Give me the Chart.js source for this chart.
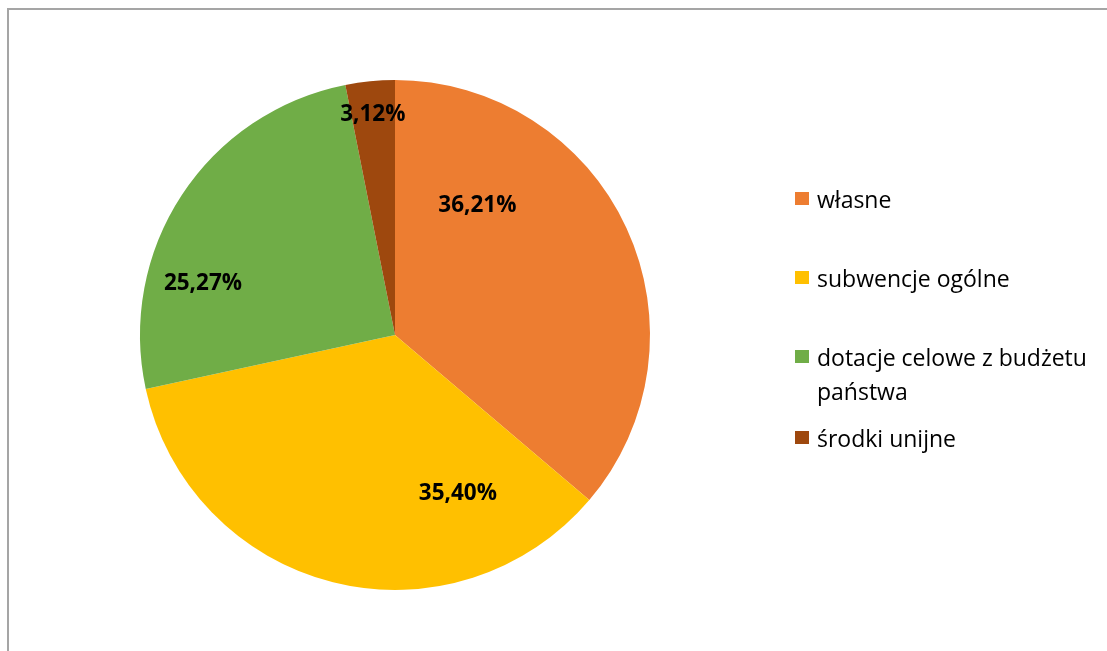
<!DOCTYPE html>
<html>
<head>
<meta charset="utf-8">
<script src="https://cdn.jsdelivr.net/npm/chart.js@4/dist/chart.umd.min.js"></script>
<style>
    body { margin: 0; background: #fff; }
    #wrap { position: relative; width: 1107px; height: 651px; overflow: hidden; }
    #frame { position: absolute; left: 7px; top: 8px; width: 1200px; height: 800px; border-left: 2px solid #a5a5a5; border-top: 2px solid #a5a5a5; }
    #myChart { position: absolute; left: 0; top: 0; }
    #legend { position: absolute; left: 0; top: 0; font-family: "Open Sans", sans-serif; font-size: 23px; color: #000; }
    .item { position: absolute; left: 795px; width: 310px; line-height: 34px; }
    .box { position: absolute; left: 0; top: 10px; width: 14px; height: 13px; }
    .txt { position: absolute; left: 22px; top: 0; width: 300px; }
</style>
</head>
<body>
<div id="wrap">
    <div id="frame"></div>
    <canvas id="myChart" width="1107" height="651"></canvas>
    <div id="legend"></div>
</div>
<script>
const labels = ['własne', 'subwencje ogólne', 'dotacje celowe z budżetu państwa', 'środki unijne']
const legendLines = [['własne'], ['subwencje ogólne'], ['dotacje celowe z budżetu', 'państwa'], ['środki unijne']]
const values = [36.21, 35.40, 25.27, 3.12]
const colors = ['#ED7D31', '#FFC000', '#70AD47', '#9E480E']

// where inside each slice Excel put the percent label
const labelAngleFrac = [0.25, 0.22, 0.30, 0.49]
const labelRadiusFrac = [0.60, 0.67, 0.78, 0.87]
const legendTops = [182, 261, 340, 421]

function formatPct(v) {
    return v.toFixed(2).replace('.', ',') + '%'
}

const pieLabels = {
    id: 'pieLabels',
    afterDatasetsDraw(chart) {
        let ctx = chart.ctx
        let meta = chart.getDatasetMeta(0)
        ctx.save()
        ctx.font = 'bold 22.5px "Open Sans", sans-serif'
        ctx.fillStyle = '#000'
        ctx.textAlign = 'center'
        ctx.textBaseline = 'middle'
        meta.data.forEach((arc, i) => {
            let a = arc.startAngle + (arc.endAngle - arc.startAngle) * labelAngleFrac[i]
            let r = arc.outerRadius * labelRadiusFrac[i]
            ctx.fillText(formatPct(values[i]), arc.x + Math.cos(a) * r, arc.y + Math.sin(a) * r)
        })
        ctx.restore()
    }
}

let ctx = document.getElementById('myChart')
let myChart = new Chart(ctx, {
    type: 'pie',
    data: {
        labels: labels,
        datasets: [{
            data: values,
            backgroundColor: colors,
            borderWidth: 0
        }]
    },
    options: {
        responsive: false,
        animation: false,
        layout: { padding: { left: 140, right: 457, top: 80, bottom: 61 } },
        plugins: {
            legend: { display: false },
            tooltip: { enabled: false }
        }
    },
    plugins: [pieLabels]
})

let legend = document.getElementById('legend')
legendLines.forEach((lines, i) => {
    let item = document.createElement('div')
    item.className = 'item'
    item.style.top = legendTops[i] + 'px'
    let box = document.createElement('div')
    box.className = 'box'
    box.style.background = colors[i]
    let txt = document.createElement('div')
    txt.className = 'txt'
    txt.innerHTML = lines.join('<br>')
    item.appendChild(box)
    item.appendChild(txt)
    legend.appendChild(item)
})
</script>
</body>
</html>
